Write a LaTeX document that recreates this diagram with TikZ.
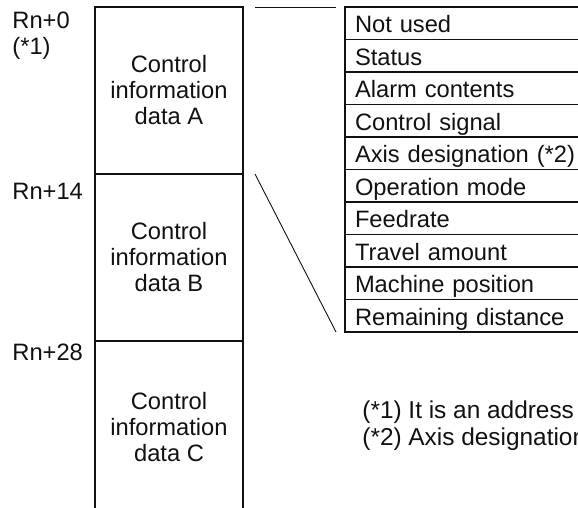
\documentclass[tikz,border=0pt]{standalone}
\usepackage{fontspec}
\setmainfont{Liberation Sans}
\usetikzlibrary{positioning,calc}
\definecolor{ink}{HTML}{111111}
\tikzset{
  every node/.style={font=\fontsize{11.85}{13}\selectfont,text=ink},
  block/.style={draw=ink,line width=0.6pt,outer sep=0pt,minimum width=74pt,minimum height=83.5pt,align=center,inner sep=0pt},
  field/.style={draw=ink,line width=0.6pt,outer sep=0pt,minimum width=130pt,minimum height=16.25pt,text width=120pt,align=left,inner xsep=5pt,inner ysep=0pt,text height=10pt,text depth=0.4pt,anchor=north west},
  addr/.style={align=left,inner sep=0pt,anchor=north west},
  note/.style={align=left,inner sep=0pt,anchor=base west,font=\fontsize{12.2}{13.5}\selectfont},
  zoomline/.style={draw=ink,line width=0.45pt},
}

\begin{document}
\begin{tikzpicture}

\useasboundingbox (0pt,0pt) rectangle (289pt,-254pt);
\clip (0pt,0pt) rectangle (289pt,-254pt);

% memory map
\node[block] (blka) at (84.5pt,-45.25pt) {Control\\information\\data A};
\node[block,below=0pt of blka] (blkb) {Control\\information\\data B};
\node[block,below=0pt of blkb,minimum height=86pt] (blkc) {Control\\information\\data C};

\node[addr] (adra) at ([shift={(-41.5pt,-2.5pt)}]blka.north west) {Rn+0\\(*1)};
\node[addr] (adrb) at ([shift={(-41.5pt,-4.5pt)}]blkb.north west) {Rn+14};
\node[addr] (adrc) at ([shift={(-41.5pt,-1.5pt)}]blkc.north west) {Rn+28};

% contents of one block
\node[field] (f1) at (172.5pt,-3.5pt) {Not used};
\node[field,below=0pt of f1.south west,anchor=north west] (f2) {Status};
\node[field,below=0pt of f2.south west,anchor=north west] (f3) {Alarm contents};
\node[field,below=0pt of f3.south west,anchor=north west] (f4) {Control signal};
\node[field,below=0pt of f4.south west,anchor=north west] (f5) {Axis designation (*2)};
\node[field,below=0pt of f5.south west,anchor=north west] (f6) {Operation mode};
\node[field,below=0pt of f6.south west,anchor=north west] (f7) {Feedrate};
\node[field,below=0pt of f7.south west,anchor=north west] (f8) {Travel amount};
\node[field,below=0pt of f8.south west,anchor=north west] (f9) {Machine position};
\node[field,below=0pt of f9.south west,anchor=north west] (f10) {Remaining distance};

\draw[zoomline] ([xshift=6pt]blka.north east) -- ([xshift=-4.5pt]f1.north west);
\draw[zoomline] ([xshift=6pt]blka.south east) -- ([xshift=-4.5pt]f10.south west);

% notes
\node[note] (note1) at ([shift={(8.5pt,-43pt)}]f10.south west) {(*1) It is an address};
\node[note] (note2) at ([yshift=-13.5pt]note1.base west) {(*2) Axis designation};

\end{tikzpicture}
\end{document}
